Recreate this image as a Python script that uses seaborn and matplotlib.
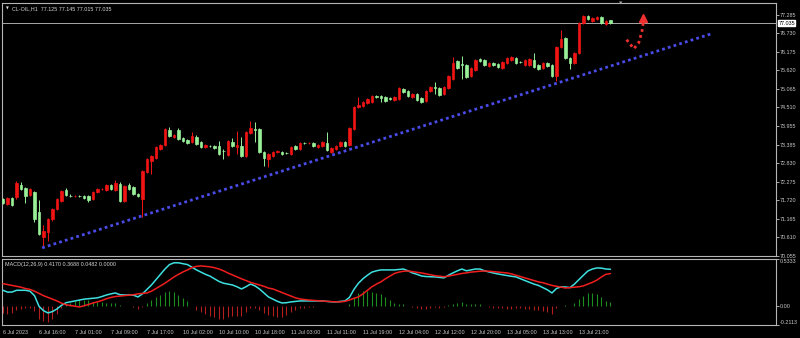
import numpy as np
import pandas as pd
import matplotlib
matplotlib.use("Agg")
import matplotlib.pyplot as plt
import seaborn as sns

# ---------------- data (CL-OIL, H1) ----------------
opens = [
    71.76, 71.61, 71.79, 71.82, 72.18, 72.09, 71.88, 71.97, 71.38, 70.63,
    70.78, 71.17, 71.46, 71.70, 72.03, 71.86, 71.85, 71.86, 71.85, 71.85,
    71.76, 71.97, 72.06, 72.03, 72.18, 72.03, 72.21, 71.70, 72.18, 72.12,
    71.91, 71.76, 72.57, 72.90, 72.99, 73.26, 73.38, 73.82, 73.61, 73.82,
    73.58, 73.52, 73.46, 73.61, 73.46, 73.32, 73.35, 73.35, 73.35, 73.20,
    73.08, 73.46, 73.32, 73.35, 73.05, 73.73, 73.85, 73.85, 73.17, 72.96,
    73.05, 73.17, 73.17, 73.14, 73.11, 73.35, 73.26, 73.44, 73.43, 73.44,
    73.32, 73.35, 73.44, 73.17, 73.26, 73.35, 73.46, 73.38, 73.85, 74.51,
    74.54, 74.63, 74.66, 74.84, 74.84, 74.81, 74.78, 74.72, 74.75, 75.05,
    74.99, 74.81, 74.90, 74.78, 74.69, 74.99, 75.11, 75.08, 74.90, 75.08,
    75.35, 75.91, 75.82, 75.79, 75.44, 75.64, 75.97, 75.94, 75.76, 75.85,
    75.82, 75.70, 75.85, 75.94, 76.00, 75.88, 75.79, 75.79, 75.94, 75.79,
    75.70, 75.85, 75.79, 75.44, 76.33, 76.60, 76.00, 75.85, 76.15, 77.05,
    77.26, 77.11, 77.17, 77.23, 77.02, 77.125,
]
highs = [
    71.79, 71.82, 71.82, 72.30, 72.27, 72.12, 72.09, 72.00, 71.73, 70.99,
    71.20, 71.49, 71.79, 72.03, 72.09, 71.90, 71.89, 71.89, 71.88, 71.88,
    72.00, 72.09, 72.10, 72.21, 72.21, 72.33, 72.27, 72.18, 72.24, 72.15,
    71.94, 72.63, 72.99, 73.08, 73.35, 73.41, 73.88, 73.91, 73.70, 73.88,
    73.61, 73.55, 73.76, 73.67, 73.49, 73.41, 73.38, 73.38, 73.49, 73.26,
    73.52, 73.58, 73.79, 73.61, 73.79, 74.09, 74.06, 73.88, 73.20, 73.14,
    73.20, 73.23, 73.20, 73.17, 73.35, 73.38, 73.46, 73.46, 73.46, 73.46,
    73.41, 73.49, 73.76, 73.32, 73.38, 73.49, 73.49, 73.91, 74.54, 74.81,
    74.69, 74.78, 74.87, 74.87, 74.87, 74.84, 74.81, 74.84, 75.11, 75.08,
    75.02, 74.93, 74.93, 74.81, 75.02, 75.14, 75.26, 75.11, 75.14, 75.47,
    76.03, 75.94, 76.06, 75.82, 75.73, 75.97, 76.00, 75.97, 75.88, 75.88,
    75.85, 75.91, 76.03, 76.06, 76.03, 75.91, 75.97, 76.00, 76.15, 75.82,
    75.88, 75.88, 75.82, 76.36, 76.84, 76.63, 76.03, 76.18, 77.08, 77.29,
    77.29, 77.23, 77.26, 77.26, 77.14, 77.145,
]
lows = [
    71.61, 71.58, 71.55, 71.76, 72.03, 71.64, 71.85, 71.08, 70.69, 70.36,
    70.51, 71.11, 71.43, 71.67, 71.85, 71.82, 71.82, 71.82, 71.76, 71.67,
    71.73, 71.94, 72.03, 72.00, 72.03, 72.00, 71.67, 71.67, 72.03, 71.88,
    71.82, 71.23, 72.54, 72.51, 72.96, 73.23, 73.35, 73.61, 73.58, 73.52,
    73.46, 73.41, 73.43, 73.38, 73.29, 73.29, 73.31, 73.26, 73.08, 72.96,
    73.05, 73.32, 73.11, 73.02, 73.02, 73.70, 73.46, 73.14, 72.75, 72.72,
    73.02, 73.14, 73.08, 73.10, 73.08, 73.23, 73.23, 73.40, 73.40, 73.32,
    73.29, 73.32, 73.20, 73.14, 73.23, 73.32, 73.32, 73.35, 73.82, 74.48,
    74.51, 74.60, 74.63, 74.78, 74.66, 74.66, 74.74, 74.69, 74.72, 74.93,
    74.81, 74.78, 74.69, 74.63, 74.66, 74.96, 74.90, 74.84, 74.87, 75.05,
    75.32, 75.67, 75.35, 75.38, 75.41, 75.61, 75.88, 75.76, 75.73, 75.76,
    75.70, 75.67, 75.82, 75.91, 75.82, 75.85, 75.76, 75.76, 75.70, 75.64,
    75.67, 75.73, 75.41, 75.29, 76.30, 75.97, 75.67, 75.82, 76.12, 77.02,
    77.14, 77.08, 77.14, 77.02, 76.99, 77.015,
]
closes = [
    71.64, 71.79, 71.58, 72.24, 72.06, 71.85, 72.06, 71.17, 70.72, 70.81,
    71.17, 71.46, 71.76, 72.00, 71.88, 71.85, 71.86, 71.85, 71.79, 71.73,
    71.97, 72.06, 72.07, 72.18, 72.06, 72.24, 71.70, 72.15, 72.06, 71.91,
    71.85, 72.60, 72.96, 73.05, 73.32, 73.38, 73.85, 73.64, 73.67, 73.55,
    73.49, 73.44, 73.64, 73.41, 73.32, 73.38, 73.34, 73.29, 73.11, 73.19,
    73.49, 73.35, 73.38, 73.05, 73.76, 73.88, 73.82, 73.17, 72.99, 73.11,
    73.17, 73.20, 73.11, 73.13, 73.32, 73.26, 73.44, 73.43, 73.44, 73.35,
    73.38, 73.46, 73.23, 73.29, 73.35, 73.46, 73.35, 73.88, 74.51, 74.57,
    74.66, 74.75, 74.84, 74.81, 74.78, 74.69, 74.77, 74.81, 75.08, 74.96,
    74.84, 74.90, 74.72, 74.66, 74.99, 75.11, 75.08, 74.87, 75.11, 75.44,
    75.85, 75.70, 75.79, 75.41, 75.70, 75.94, 75.91, 75.79, 75.85, 75.79,
    75.73, 75.88, 76.00, 76.03, 75.85, 75.87, 75.94, 75.97, 75.73, 75.67,
    75.85, 75.76, 75.44, 76.33, 76.57, 76.00, 75.85, 76.15, 77.05, 77.26,
    77.17, 77.20, 77.23, 77.05, 77.11, 77.035,
]
macd_main = [
    0.18, 0.16, 0.16, 0.18, 0.18, 0.18, 0.17, 0.12, 0.00, -0.05,
    -0.075, -0.06, -0.03, 0.01, 0.04, 0.05, 0.06, 0.07, 0.08, 0.085,
    0.09, 0.095, 0.11, 0.127, 0.14, 0.15, 0.13, 0.127, 0.127, 0.125,
    0.105, 0.14, 0.19, 0.24, 0.30, 0.36, 0.42, 0.47, 0.49, 0.49,
    0.48, 0.47, 0.44, 0.41, 0.385, 0.36, 0.34, 0.31, 0.28, 0.26,
    0.25, 0.24, 0.22, 0.195, 0.22, 0.25, 0.23, 0.195, 0.15, 0.105,
    0.08, 0.055, 0.037, 0.04, 0.049, 0.055, 0.06, 0.06, 0.06, 0.06,
    0.06, 0.06, 0.055, 0.05, 0.049, 0.055, 0.06, 0.10, 0.19, 0.26,
    0.31, 0.35, 0.385, 0.40, 0.41, 0.41, 0.41, 0.41, 0.415, 0.42,
    0.40, 0.376, 0.36, 0.342, 0.335, 0.333, 0.331, 0.325, 0.32, 0.35,
    0.376, 0.40, 0.42, 0.40, 0.41, 0.42, 0.42, 0.40, 0.387, 0.375,
    0.364, 0.355, 0.345, 0.338, 0.331, 0.31, 0.29, 0.27, 0.25, 0.235,
    0.21, 0.185, 0.15, 0.20, 0.218, 0.218, 0.21, 0.25, 0.30, 0.35,
    0.398, 0.42, 0.432, 0.43, 0.42, 0.417,
]
macd_signal = [
    0.255, 0.245, 0.235, 0.225, 0.215, 0.20, 0.19, 0.17, 0.145, 0.12,
    0.10, 0.08, 0.06, 0.035, 0.017, 0.008, 0.0, -0.008, 0.005, 0.02,
    0.037, 0.05, 0.065, 0.085, 0.10, 0.11, 0.115, 0.12, 0.125, 0.13,
    0.14, 0.145, 0.15, 0.17, 0.20, 0.23, 0.26, 0.295, 0.33, 0.36,
    0.387, 0.41, 0.435, 0.45, 0.455, 0.45, 0.445, 0.435, 0.42, 0.40,
    0.375, 0.353, 0.33, 0.31, 0.29, 0.27, 0.255, 0.24, 0.225, 0.205,
    0.195, 0.175, 0.155, 0.135, 0.115, 0.095, 0.082, 0.076, 0.07, 0.066,
    0.062, 0.058, 0.055, 0.052, 0.05, 0.049, 0.055, 0.07, 0.09, 0.105,
    0.14, 0.18, 0.22, 0.25, 0.275, 0.31, 0.34, 0.37, 0.385, 0.395,
    0.398, 0.39, 0.383, 0.376, 0.365, 0.355, 0.345, 0.34, 0.333, 0.34,
    0.35, 0.36, 0.37, 0.376, 0.385, 0.39, 0.395, 0.398, 0.395, 0.39,
    0.385, 0.38, 0.376, 0.365, 0.35, 0.335, 0.32, 0.305, 0.29, 0.275,
    0.265, 0.25, 0.235, 0.225, 0.215, 0.206, 0.21, 0.215, 0.22, 0.23,
    0.25, 0.27, 0.295, 0.33, 0.36, 0.369,
]
time_labels = ["6 Jul 2023", "6 Jul 16:00", "7 Jul 01:00", "7 Jul 09:00",
               "7 Jul 17:00", "10 Jul 02:00", "10 Jul 10:00", "10 Jul 18:00",
               "11 Jul 03:00", "11 Jul 11:00", "11 Jul 19:00", "12 Jul 04:00",
               "12 Jul 12:00", "12 Jul 20:00", "13 Jul 05:00", "13 Jul 13:00",
               "13 Jul 21:00"]
label_bars = [0, 8, 16, 24, 32, 40, 48, 56, 64, 72, 80, 88, 96, 104, 112, 120, 128]
price_ticks = [77.285, 76.730, 76.175, 75.620, 75.065, 74.510, 73.955,
               73.385, 72.830, 72.275, 71.720, 71.165, 70.610, 70.055]
macd_ticks = [0.5333, 0.00, -0.2113]
last_price = 77.035
header = "CL-OIL,H1  77.125 77.145 77.015 77.035"
macd_header = "MACD(12,26,9) 0.4170 0.3688 0.0482 0.0000"
trend_bars = [8.7, 157.5]
trend_prices = [70.30, 76.72]
arrow_bars = [138.6, 140.2, 141.3, 142.0, 142.3]
arrow_prices = [76.54, 76.27, 76.45, 76.78, 77.05]
arrow_tip = (142.3, 77.20)

# ---------------- style ----------------
sns.set_theme(style="dark")
plt.rcParams["font.family"] = ["Liberation Sans", "DejaVu Sans"]
BG = "black"
FG = "#c8c8c8"
FRAME = "#b4b4b4"
UP = "#f01414"
DOWN = "#98f098"
FS = 3.9

df = pd.DataFrame({"open": opens, "high": highs, "low": lows, "close": closes,
                   "main": macd_main, "signal": macd_signal})
df["bar"] = np.arange(len(df))
df["up"] = df["close"] >= df["open"]
df["color"] = np.where(df["up"], UP, DOWN)
df["osma"] = df["main"] - df["signal"]

fig = plt.figure(figsize=(8, 3.38), dpi=100, facecolor=BG)
ax = fig.add_axes([0.0025, 0.2426, 0.9675, 0.7485])
ax2 = fig.add_axes([0.0025, 0.0385, 0.9675, 0.1953], sharex=ax)

for a in (ax, ax2):
    a.set_facecolor(BG)
    a.grid(False)
    for s in a.spines.values():
        s.set_color(FRAME)
        s.set_linewidth(0.8)

# candles
ax.vlines(df["bar"], df["low"], df["high"], colors=df["color"], linewidth=0.7, zorder=2)
body_bottom = df[["open", "close"]].min(axis=1)
body_h = (df["close"] - df["open"]).abs()
ax.bar(df["bar"], body_h, bottom=body_bottom, width=0.62, color=df["color"],
       edgecolor=df["color"], linewidth=0.5, zorder=3)

# current price line
ax.axhline(last_price, color="#a8a8a8", linewidth=0.7, zorder=1)

# trend line (blue dotted)
sns.lineplot(x=trend_bars, y=trend_prices, ax=ax, color="#4b4be8", linewidth=2.0,
             linestyle=(0, (1.0, 1.15)), zorder=4)
# red dotted arrow
sns.lineplot(x=arrow_bars, y=arrow_prices, ax=ax, color="#f03030", linewidth=2.0,
             linestyle=(0, (1.0, 1.2)), sort=False, zorder=4)
ax.plot([arrow_tip[0]], [arrow_tip[1]], marker="^", markersize=6, color="#f03030",
        linestyle="none", zorder=5)

ax.set_xlim(-0.22, 171.8)
ax.set_ylim(70.06, 77.64)
ax.yaxis.tick_right()
ax.set_yticks(price_ticks)
ax.set_yticklabels([f"{v:.3f}" for v in price_ticks])
ax.tick_params(axis="y", which="both", right=True, left=False, labelright=True,
               labelleft=False, colors=FG, length=2, width=0.6, labelsize=FS, pad=1)
ax.tick_params(axis="x", bottom=False, labelbottom=False)
ax.set_xlabel("")
ax.set_ylabel("")

ax.annotate(f"{last_price:.3f}", xy=(1, last_price), xycoords=("axes fraction", "data"),
            xytext=(1.6, 0), textcoords="offset points", va="center", ha="left",
            fontsize=FS, color="black",
            bbox=dict(boxstyle="square,pad=0.12", fc="white", ec="white"))
ax.text(0.005, 0.985, "\u25bc", transform=ax.transAxes, fontsize=2.6, color="#e0e0e0",
        va="top", ha="left", family=["DejaVu Sans"])
ax.text(0.013, 0.988, header, transform=ax.transAxes, fontsize=FS, color="#d8d8d8",
        va="top", ha="left")
ax.annotate("\u25bc", xy=(137.3, 1.0), xycoords=("data", "axes fraction"),
            fontsize=3.2, color="#a0a0a0", ha="center", va="center",
            family=["DejaVu Sans"])

# MACD panel
pos = df["osma"] >= 0
ax2.vlines(df["bar"], 0, df["osma"], colors=np.where(pos, "#1e8c1e", "#b41e1e"),
           linewidth=0.8, zorder=2)
sns.lineplot(data=df, x="bar", y="main", ax=ax2, color="#3ee0e0", linewidth=1.1, zorder=3)
sns.lineplot(data=df, x="bar", y="signal", ax=ax2, color="#f01e1e", linewidth=1.1, zorder=4)
ax2.set_ylim(-0.2113, 0.5333)
ax2.yaxis.tick_right()
ax2.set_yticks(macd_ticks)
ax2.set_yticklabels(["0.5333", "0.00", "-0.2113"])
ax2.tick_params(axis="y", which="both", right=True, left=False, labelright=True,
                labelleft=False, colors=FG, length=2, width=0.6, labelsize=FS, pad=1)
lbls = ax2.get_yticklabels()
lbls[0].set_va("top")
lbls[-1].set_va("bottom")
ax2.set_xticks(label_bars)
ax2.set_xticklabels(time_labels, ha="left")
ax2.tick_params(axis="x", colors=FG, length=2, width=0.6, labelsize=FS, pad=1.5)
ax2.set_xlabel("")
ax2.set_ylabel("")
ax2.text(0.004, 0.96, macd_header, transform=ax2.transAxes, fontsize=FS,
         color="#d8d8d8", va="top", ha="left")

fig.savefig("out.png", dpi=100, facecolor=BG)
